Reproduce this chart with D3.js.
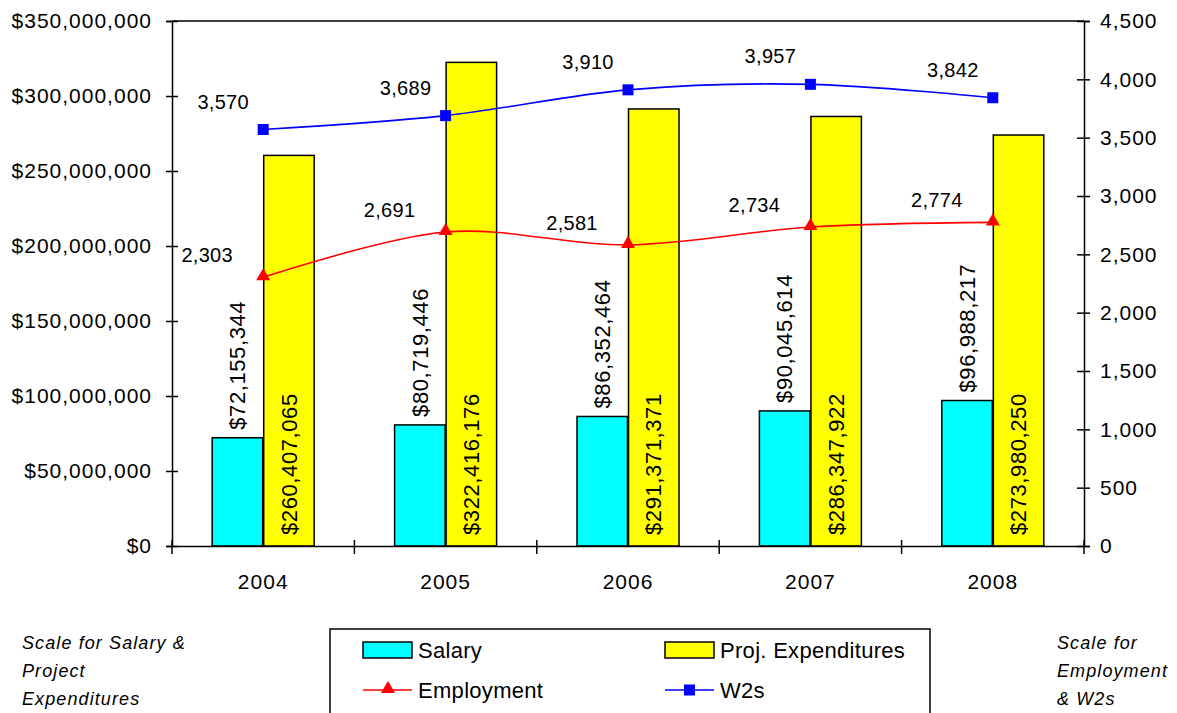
<!DOCTYPE html>
<html>
<head>
<meta charset="utf-8">
<script src="https://cdn.jsdelivr.net/npm/d3@7"></script>
<style>
  html, body { margin: 0; padding: 0; background: #fff; }
  svg { display: block; font-family: Arial, "Liberation Sans", sans-serif; }
</style>
</head>
<body>
<svg id="chart" width="1177" height="713"></svg>
<script>
// ---- data ----
const years = ["2004", "2005", "2006", "2007", "2008"];
const salary = [72155344, 80719446, 86352464, 90045614, 96988217];
const projExpenditures = [260407065, 322416176, 291371371, 286347922, 273980250];
const employment = [2303, 2691, 2581, 2734, 2774];
const w2s = [3570, 3689, 3910, 3957, 3842];
const leftTicks = [0, 50000000, 100000000, 150000000, 200000000, 250000000, 300000000, 350000000];
const rightTicks = [0, 500, 1000, 1500, 2000, 2500, 3000, 3500, 4000, 4500];
const barSeries = ["Salary", "Proj. Expenditures"];
const lineSeries = ["Employment", "W2s"];

// ---- layout ----
const svg = d3.select("#chart");
const L = 172, R = 1084, T = 21, B = 546;
const col = { sal: "#00FFFF", proj: "#FFFF00", emp: "#FF0000", w2: "#0000FF" };

svg.append("rect").attr("width", 1177).attr("height", 713).attr("fill", "#fff");

const x = d3.scaleBand().domain(years).range([L, R]).padding(0);
const yL = d3.scaleLinear().domain([0, 350000000]).range([B, T]);
const yR = d3.scaleLinear().domain([0, 4500]).range([B, T]);
const cx = d => x(d) + x.bandwidth() / 2;
const barW = 50;
const xb = d3.scaleBand().domain(barSeries).range([-barW - 1, barW + 1]).paddingInner(0.02);

const money = d3.format("$,");
const comma = d3.format(",");

// plot frame top line
svg.append("line").attr("x1", L).attr("x2", R).attr("y1", T).attr("y2", T)
  .attr("stroke", "#000").attr("stroke-width", 1.5);

// bars
const g = svg.append("g");
years.forEach((yr, i) => {
  const vals = [salary[i], projExpenditures[i]];
  const fills = [col.sal, col.proj];
  vals.forEach((v, j) => {
    g.append("rect")
      .attr("x", cx(yr) + xb(barSeries[j]))
      .attr("y", yL(v))
      .attr("width", xb.bandwidth())
      .attr("height", B - yL(v))
      .attr("fill", fills[j])
      .attr("stroke", "#000")
      .attr("stroke-width", 1.5);
  });
});

// bar labels (rotated)
const labelStyle = sel => sel.attr("font-size", 22).attr("letter-spacing", 0.6).attr("fill", "#000");
years.forEach((yr, i) => {
  const sx = cx(yr) + xb("Salary") + xb.bandwidth() / 2;
  const sy = yL(salary[i]) - 8;
  svg.append("text").call(labelStyle)
    .attr("transform", `translate(${sx},${sy}) rotate(-90)`)
    .attr("dy", "0.35em").attr("text-anchor", "start")
    .text(money(salary[i]));
  const px = cx(yr) + xb("Proj. Expenditures") + xb.bandwidth() / 2;
  const py = B - 11;
  svg.append("text").call(labelStyle)
    .attr("transform", `translate(${px},${py}) rotate(-90)`)
    .attr("dy", "0.35em").attr("text-anchor", "start")
    .text(money(projExpenditures[i]));
});

// lines
const curve = d3.curveCatmullRom.alpha(0.5);
const lineGen = d3.line().x((d, i) => cx(years[i])).y(d => yR(d)).curve(curve);
svg.append("path").attr("d", lineGen(employment)).attr("fill", "none")
  .attr("stroke", col.emp).attr("stroke-width", 1.6);
svg.append("path").attr("d", lineGen(w2s)).attr("fill", "none")
  .attr("stroke", col.w2).attr("stroke-width", 1.6);

const tri = d3.symbol().type(d3.symbolTriangle).size(85);
employment.forEach((v, i) => {
  svg.append("path").attr("d", tri())
    .attr("transform", `translate(${cx(years[i])},${yR(v) - 1})`).attr("fill", col.emp);
  svg.append("text").attr("font-size", 20).attr("letter-spacing", 0.3).attr("text-anchor", "middle")
    .attr("x", cx(years[i]) - 56).attr("y", yR(v) - 22).attr("dy", "0.35em")
    .text(comma(v));
});
w2s.forEach((v, i) => {
  svg.append("rect").attr("x", cx(years[i]) - 5.5).attr("y", yR(v) - 5.5)
    .attr("width", 11).attr("height", 11).attr("fill", col.w2);
  svg.append("text").attr("font-size", 20).attr("letter-spacing", 0.3).attr("text-anchor", "middle")
    .attr("x", cx(years[i]) - 40).attr("y", yR(v) - 28).attr("dy", "0.35em")
    .text(comma(v));
});

// axes
const axisFont = sel => sel.selectAll("text").attr("font-size", 21).attr("letter-spacing", 1)
  .attr("fill", "#000").attr("font-family", "Arial, 'Liberation Sans', sans-serif");
const leftAxis = svg.append("g").attr("transform", `translate(${L},0)`)
  .call(d3.axisLeft(yL).tickValues(leftTicks).tickFormat(money).tickSize(6).tickPadding(14));
leftAxis.call(axisFont);
leftAxis.selectAll(".tick line").attr("x1", 6).attr("stroke-width", 1.5);
leftAxis.select(".domain").attr("stroke-width", 1.5);

const rightAxis = svg.append("g").attr("transform", `translate(${R},0)`)
  .call(d3.axisRight(yR).tickValues(rightTicks).tickFormat(comma).tickSize(6).tickPadding(10));
rightAxis.call(axisFont);
rightAxis.selectAll(".tick line").attr("x1", -7).attr("stroke-width", 1.5);
rightAxis.select(".domain").attr("stroke-width", 1.5);

const bottom = svg.append("g").attr("transform", `translate(0,${B})`)
  .call(d3.axisBottom(x).tickSize(0).tickPadding(28));
bottom.call(axisFont);
bottom.select(".domain").attr("stroke-width", 1.5);
const bounds = years.map(d => x(d)).concat([R]);
bottom.selectAll(".bt").data(bounds).enter().append("line")
  .attr("x1", d => d).attr("x2", d => d).attr("y1", -6).attr("y2", 8)
  .attr("stroke", "#000").attr("stroke-width", 1.5);

// side notes
const note = (lines, x0) => {
  const t = svg.append("text").attr("font-size", 18).attr("font-style", "italic")
    .attr("letter-spacing", 1.1).attr("fill", "#000");
  lines.forEach((s, k) => t.append("tspan").attr("x", x0).attr("y", 649 + k * 28).text(s));
};
note(["Scale for Salary &", "Project", "Expenditures"], 22);
note(["Scale for", "Employment", "& W2s"], 1057);

// legend
const lg = svg.append("g");
lg.append("rect").attr("x", 330).attr("y", 629).attr("width", 600).attr("height", 120)
  .attr("fill", "#fff").attr("stroke", "#000").attr("stroke-width", 1.5);
const legendItems = [
  { name: barSeries[0], type: "bar", color: col.sal, x: 363, y: 650 },
  { name: barSeries[1], type: "bar", color: col.proj, x: 665, y: 650 },
  { name: lineSeries[0], type: "tri", color: col.emp, x: 363, y: 690 },
  { name: lineSeries[1], type: "sq", color: col.w2, x: 665, y: 690 }
];
legendItems.forEach(it => {
  if (it.type === "bar") {
    lg.append("rect").attr("x", it.x).attr("y", it.y - 8).attr("width", 49).attr("height", 16)
      .attr("fill", it.color).attr("stroke", "#000").attr("stroke-width", 1.5);
  } else {
    lg.append("line").attr("x1", it.x).attr("x2", it.x + 49).attr("y1", it.y).attr("y2", it.y)
      .attr("stroke", it.color).attr("stroke-width", 1.6);
    if (it.type === "tri") {
      lg.append("path").attr("d", tri()).attr("transform", `translate(${it.x + 25},${it.y - 1})`)
        .attr("fill", it.color);
    } else {
      lg.append("rect").attr("x", it.x + 19).attr("y", it.y - 5.5).attr("width", 11).attr("height", 11)
        .attr("fill", it.color);
    }
  }
  lg.append("text").attr("x", it.x + 55).attr("y", it.y).attr("dy", "0.35em")
    .attr("font-size", 22).attr("letter-spacing", 0.3).attr("fill", "#000").text(it.name);
});
</script>
</body>
</html>
